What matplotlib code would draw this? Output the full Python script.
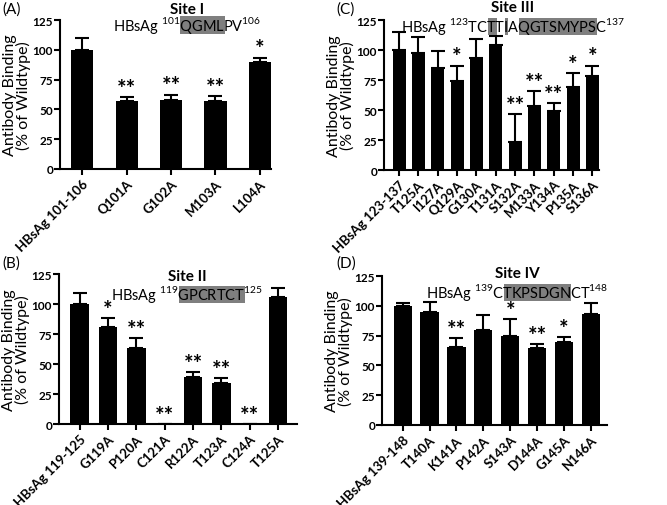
import matplotlib
matplotlib.use('Agg')
import matplotlib.pyplot as plt
from matplotlib.patches import Rectangle

plt.rcParams['font.family'] = ['Lato', 'DejaVu Sans']
plt.rcParams['mathtext.fontset'] = 'custom'
plt.rcParams['mathtext.rm'] = 'Lato'

# ---- data ----
a_labels = ['HBsAg 101-106', 'Q101A', 'G102A', 'M103A', 'L104A']
a_vals = [100, 57, 58, 57, 89.5]
a_err = [9.5, 3, 4.5, 4, 4]
a_stars = ['', '**', '**', '**', '*']

b_labels = ['HBsAg 119-125', 'G119A', 'P120A', 'C121A', 'R122A', 'T123A', 'C124A', 'T125A']
b_vals = [100, 80.5, 63.5, 0, 39, 34, 0, 106]
b_err = [9, 8, 8, 0, 4.5, 4, 0, 7.5]
b_stars = ['', '*', '**', '**', '**', '**', '**', '']

c_labels = ['HBsAg 123-137', 'T125A', 'I127A', 'Q129A', 'G130A', 'T131A',
            'S132A', 'M133A', 'Y134A', 'P135A', 'S136A']
c_vals = [100, 97.5, 85, 74, 93.5, 104, 23.5, 53.5, 49, 69.5, 78]
c_err = [15, 13, 14, 13, 15.5, 8, 23, 12.5, 6.5, 11, 9]
c_stars = ['', '', '', '*', '', '', '**', '**', '**', '*', '*']

d_labels = ['HBsAg 139-148', 'T140A', 'K141A', 'P142A', 'S143A', 'D144A', 'G145A', 'N146A']
d_vals = [100, 95, 65.5, 80, 74.5, 64.5, 70, 93]
d_err = [2.5, 8.5, 7.5, 12, 14.5, 3.5, 4, 9]
d_stars = ['', '', '**', '', '*', '**', '*', '']

# sequence pieces: (start residue, residues, end residue, highlighted flags per residue)
a_seq = ('101', 'QGMLPV', '106', '111100')
b_seq = ('119', 'GPCRTCT', '125', '1111111')
c_seq = ('123', 'TCTTIAQGTSMYPSC', '137', '001010111111110')
d_seq = ('139', 'CTKPSDGNCT', '148', '0111111100')

W, H = 667, 506
fig = plt.figure(figsize=(W / 100, H / 100), dpi=100)
renderer = fig.canvas.get_renderer()


def px_axes(x0, x1, ytop, ybot):
    return fig.add_axes([x0 / W, 1 - ybot / H, (x1 - x0) / W, (ybot - ytop) / H])


def draw_panel(ax, labels, vals, err, stars, width, xlim):
    x = list(range(len(vals)))
    ax.bar(x, vals, width=width, color='black', zorder=2)
    ax.errorbar(x, vals, yerr=[[0] * len(err), err], fmt='none', ecolor='black',
                elinewidth=1.5, capsize=5, capthick=1.5, zorder=1)
    for xi, v, e, s in zip(x, vals, err, stars):
        if s:
            ax.text(xi, v + e - 1.5, s, ha='center', va='bottom',
                    fontsize=16, fontweight='bold')
    ax.set_xlim(*xlim)
    ax.set_ylim(0, 125)
    ax.set_yticks([0, 25, 50, 75, 100, 125])
    ax.set_xticks(x)
    ax.set_xticklabels(labels, rotation=45, ha='right', rotation_mode='anchor',
                       fontsize=9.5, fontweight='bold')
    for lab in ax.get_yticklabels():
        lab.set_fontweight('bold')
        lab.set_fontsize(8.5)
    ax.tick_params(width=1.5, length=4)
    ax.tick_params(axis='y', pad=1)
    ax.tick_params(axis='x', pad=2)
    for side in ['top', 'right']:
        ax.spines[side].set_visible(False)
    for side in ['left', 'bottom']:
        ax.spines[side].set_linewidth(1.5)
    ax.set_ylabel('Antibody Binding\n(% of Wildtype)', fontsize=11.5,
                  linespacing=0.95, labelpad=1)


def text_w(s, size):
    t = fig.text(0, 0, s, fontsize=size)
    w = t.get_window_extent(renderer).width
    t.remove()
    return w


def draw_seq(seq, xc, base_y, size=10.5):
    start, res, end, flags = seq
    pre = 'HBsAg $^{\\mathregular{' + start + '}}$'
    full = pre + res + '$^{\\mathregular{' + end + '}}$'
    x0 = xc - text_w(full, size) / 2
    # grey boxes behind the highlighted residues
    i = 0
    while i < len(res):
        if flags[i] == '1':
            j = i
            while j < len(res) and flags[j] == '1':
                j += 1
            xa = x0 + text_w(pre + res[:i], size)
            xb = x0 + text_w(pre + res[:j], size)
            fig.add_artist(Rectangle((xa / W, 1 - (base_y + 3.5) / H), (xb - xa) / W,
                                     17 / H, transform=fig.transFigure,
                                     fc='#7f7f7f', ec='none', zorder=4))
            i = j
        else:
            i += 1
    fig.text(x0 / W, 1 - base_y / H, full, fontsize=size, va='baseline',
             ha='left', zorder=5)


ax_a = px_axes(60, 271, 21, 170)
draw_panel(ax_a, a_labels, a_vals, a_err, a_stars, 0.5, (-0.5, 4.25))
ax_c = px_axes(384, 599, 21, 171)
draw_panel(ax_c, c_labels, c_vals, c_err, c_stars, 0.67, (-0.78, 10.34))
ax_b = px_axes(59, 297, 275, 425)
draw_panel(ax_b, b_labels, b_vals, b_err, b_stars, 0.65, (-0.73, 7.67))
ax_d = px_axes(382, 607, 277, 426)
draw_panel(ax_d, d_labels, d_vals, d_err, d_stars, 0.68, (-0.77, 7.6))

# site titles and sequences
fig.text(187 / W, 1 - 10 / H, 'Site I', ha='center', va='center', fontsize=11, fontweight='bold')
fig.text(513 / W, 1 - 8 / H, 'Site III', ha='center', va='center', fontsize=11, fontweight='bold')
fig.text(187 / W, 1 - 277 / H, 'Site II', ha='center', va='center', fontsize=11, fontweight='bold')
fig.text(517 / W, 1 - 274 / H, 'Site IV', ha='center', va='center', fontsize=11, fontweight='bold')
draw_seq(a_seq, 187, 31)
draw_seq(c_seq, 513, 32)
draw_seq(b_seq, 187, 300)
draw_seq(d_seq, 517, 298)

# panel letters
for s, x, y in [('(A)', 2, 10), ('(C)', 336, 10), ('(B)', 2, 264), ('(D)', 336, 264)]:
    fig.text(x / W, 1 - y / H, s, ha='left', va='center', fontsize=11)

fig.savefig('out.png', dpi=100)
